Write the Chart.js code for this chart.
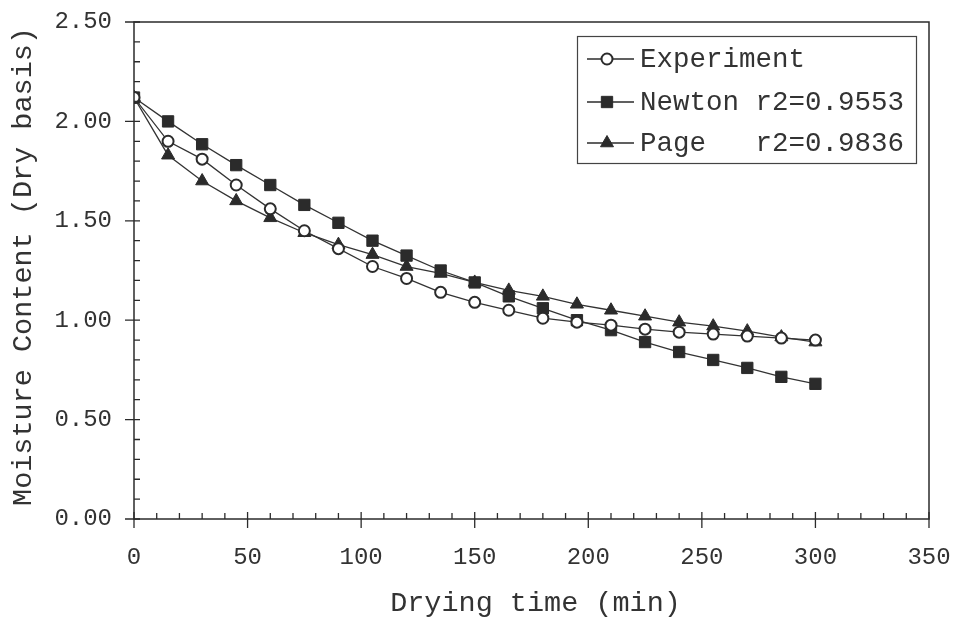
<!DOCTYPE html>
<html>
<head>
<meta charset="utf-8">
<title>Drying curve</title>
<script src="https://cdn.jsdelivr.net/npm/chart.js@4.4.0/dist/chart.umd.min.js"></script>
<style>
body { margin: 0; background: #fff; }
#chart { display: block; }
</style>
</head>
<body>
<canvas id="chart" width="954" height="617"></canvas>
<script>
var times = [0, 15, 30, 45, 60, 75, 90, 105, 120, 135, 150, 165, 180, 195, 210, 225, 240, 255, 270, 285, 300];
var experiment = [2.12, 1.90, 1.81, 1.68, 1.56, 1.45, 1.36, 1.27, 1.21, 1.14, 1.09, 1.05, 1.01, 0.99, 0.975, 0.955, 0.94, 0.93, 0.92, 0.91, 0.90];
var newton = [2.12, 2.00, 1.885, 1.78, 1.68, 1.58, 1.49, 1.40, 1.325, 1.25, 1.19, 1.12, 1.06, 1.00, 0.95, 0.89, 0.84, 0.80, 0.76, 0.715, 0.68];
var page = [2.12, 1.83, 1.70, 1.60, 1.515, 1.44, 1.38, 1.33, 1.27, 1.235, 1.19, 1.15, 1.12, 1.08, 1.05, 1.02, 0.99, 0.97, 0.945, 0.915, 0.89];
var legendLabels = ['Experiment', 'Newton r2=0.9553', 'Page   r2=0.9836'];
var xTitle = 'Drying time (min)';
var yTitle = 'Moisture Content (Dry basis)';

var ink = '#2b2b2b';
var mono = '"Liberation Mono", "Courier New", monospace';

function toPoints(values)
{
    var pts = [];
    for (var i = 0; i < times.length; i++) {
        pts.push({x: times[i], y: values[i]});
    }
    return pts;
}

// keep tick labels from pushing the plot area around
function fixBox(scale, w, h)
{
    if (w) scale.width = w;
    if (h) scale.height = h;
    scale.paddingTop = 0;
    scale.paddingBottom = 0;
    scale.paddingLeft = 0;
    scale.paddingRight = 0;
}

// frame, inner/outer tick marks, axis titles and the boxed legend
var decorations = {
    id: 'decorations',
    afterDraw: function(chart) {
        var ctx = chart.ctx;
        var a = chart.chartArea;
        var xs = chart.scales.x;
        var ys = chart.scales.y;
        var i, p;

        ctx.save();
        ctx.strokeStyle = ink;
        ctx.lineWidth = 1.5;
        ctx.strokeRect(a.left, a.top, a.right - a.left, a.bottom - a.top);

        ctx.lineWidth = 1.3;
        ctx.beginPath();
        for (i = 0; i <= 350; i += 10) {
            p = xs.getPixelForValue(i);
            if (i % 50 === 0) {
                ctx.moveTo(p, a.bottom - 7);
                ctx.lineTo(p, a.bottom + 9);
            } else {
                ctx.moveTo(p, a.bottom);
                ctx.lineTo(p, a.bottom - 6);
            }
        }
        for (i = 0; i <= 25; i++) {
            p = ys.getPixelForValue(i / 10);
            if (i % 5 === 0) {
                ctx.moveTo(a.left - 9, p);
                ctx.lineTo(a.left + 6, p);
            } else {
                ctx.moveTo(a.left, p);
                ctx.lineTo(a.left + 6, p);
            }
        }
        ctx.stroke();

        ctx.fillStyle = '#333';
        ctx.font = '28.5px ' + mono;
        ctx.textAlign = 'center';
        ctx.textBaseline = 'middle';
        ctx.fillText(xTitle, (a.left + a.right) / 2 + 4, 603);
        ctx.save();
        ctx.translate(23, (a.top + a.bottom) / 2 - 4);
        ctx.rotate(-Math.PI / 2);
        ctx.fillText(yTitle, 0, 0);
        ctx.restore();

        // legend
        ctx.lineWidth = 1.2;
        ctx.strokeStyle = '#444';
        ctx.strokeRect(577.5, 36.5, 339, 127);
        var rows = [59, 102, 143];
        ctx.textAlign = 'left';
        ctx.font = '27.5px ' + mono;
        for (i = 0; i < chart.data.datasets.length; i++) {
            var ds = chart.data.datasets[i];
            ctx.strokeStyle = ink;
            ctx.lineWidth = 1.3;
            ctx.beginPath();
            ctx.moveTo(587, rows[i]);
            ctx.lineTo(634, rows[i]);
            ctx.stroke();
            ctx.fillStyle = ds.pointBackgroundColor;
            ctx.strokeStyle = ds.pointBorderColor;
            ctx.lineWidth = ds.pointBorderWidth;
            Chart.helpers.drawPoint(ctx, {
                pointStyle: ds.pointStyle,
                radius: ds.pointRadius,
                borderWidth: ds.pointBorderWidth,
                rotation: 0
            }, 607, rows[i]);
            ctx.fillStyle = '#333';
            ctx.fillText(ds.label, 640, rows[i] + 1);
        }
        ctx.restore();
    }
};

var data = {
    datasets: [
    {
        label: legendLabels[0],
        data: toPoints(experiment),
        borderColor: '#333',
        borderWidth: 1.3,
        pointStyle: 'circle',
        pointRadius: 5.5,
        pointBackgroundColor: '#fff',
        pointBorderColor: ink,
        pointBorderWidth: 2
    },
    {
        label: legendLabels[1],
        data: toPoints(newton),
        borderColor: '#333',
        borderWidth: 1.3,
        pointStyle: 'rect',
        pointRadius: 8,
        pointBackgroundColor: ink,
        pointBorderColor: ink,
        pointBorderWidth: 1
    },
    {
        label: legendLabels[2],
        data: toPoints(page),
        borderColor: '#333',
        borderWidth: 1.3,
        pointStyle: 'triangle',
        pointRadius: 7.5,
        pointBackgroundColor: ink,
        pointBorderColor: ink,
        pointBorderWidth: 1
    }
]};

var tickFont = {family: mono, size: 24};

new Chart(document.getElementById('chart'), {
    type: 'line',
    data: data,
    options: {
        responsive: false,
        animation: false,
        devicePixelRatio: 1,
        layout: { padding: { top: 22, right: 25, left: 0, bottom: 0 } },
        plugins: {
            legend: { display: false },
            tooltip: { enabled: false }
        },
        elements: { line: { tension: 0 } },
        scales: {
            x: {
                type: 'linear',
                min: 0,
                max: 350,
                grid: { display: false },
                border: { display: false },
                ticks: { stepSize: 50, color: '#333', font: tickFont, padding: 16, maxRotation: 0 },
                afterFit: function(scale) { fixBox(scale, 0, 98); }
            },
            y: {
                min: 0,
                max: 2.5,
                grid: { display: false },
                border: { display: false },
                ticks: {
                    stepSize: 0.5,
                    color: '#333',
                    font: tickFont,
                    padding: 14,
                    callback: function(v) { return v.toFixed(2); }
                },
                afterFit: function(scale) { fixBox(scale, 134, 0); }
            }
        }
    },
    plugins: [decorations]
});
</script>
</body>
</html>
